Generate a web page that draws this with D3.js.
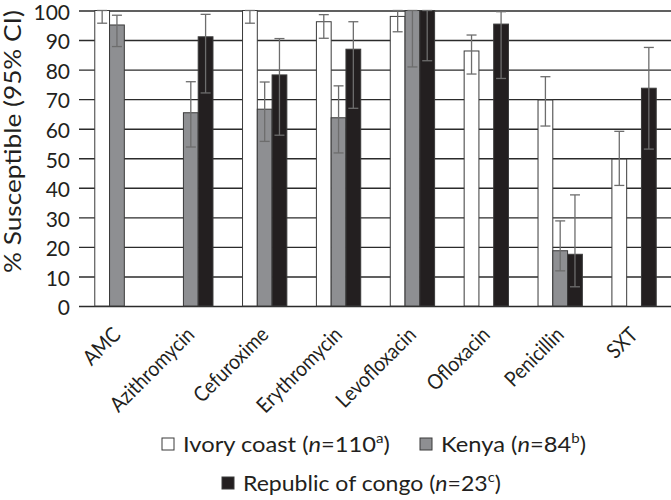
<!DOCTYPE html>
<html>
<head>
<meta charset="utf-8">
<script src="https://cdn.jsdelivr.net/npm/d3@7"></script>
<style>
  html, body { margin: 0; padding: 0; background: #fff; }
  svg { display: block; font-family: Lato, "Open Sans", sans-serif; }
</style>
</head>
<body>
<svg id="chart" width="671" height="500"></svg>
<script>
// ---- data ----
const categories = ["AMC", "Azithromycin", "Cefuroxime", "Erythromycin", "Levofloxacin", "Ofloxacin", "Penicillin", "SXT"];
const seriesNames = ["Ivory coast", "Kenya", "Republic of congo"];
const seriesN = ["110", "84", "23"];
const seriesSup = ["a", "b", "c"];
const ivoryCoast      = [100, null, 100, 96.2, 98, 86.3, 69.7, 49.7];
const ivoryCoastLow   = [95.7, null, 95.7, 90.6, 92.8, 78.5, 60.9, 40.8];
const ivoryCoastHigh  = [100, null, 100, 98.6, 100, 91.7, 77.6, 59.1];
const kenya           = [95.1, 65.4, 66.6, 63.7, 100, null, 18.7, null];
const kenyaLow        = [87.8, 53.8, 55.7, 51.8, 80.9, null, 11.9, null];
const kenyaHigh       = [98.4, 75.9, 75.8, 74.5, 100, null, 28.8, null];
const congo           = [null, 91.1, 78.2, 86.9, 100, 95.4, 17.5, 73.7];
const congoLow        = [null, 72.1, 57.8, 66.9, 83, 77, 6.5, 53.1];
const congoHigh       = [null, 98.7, 90.5, 96.2, 100, 99.6, 37.6, 87.5];
const yTicks = [0, 10, 20, 30, 40, 50, 60, 70, 80, 90, 100];
const yTitle = "% Susceptible (95% CI)";

const values = [ivoryCoast, kenya, congo];
const lows = [ivoryCoastLow, kenyaLow, congoLow];
const highs = [ivoryCoastHigh, kenyaHigh, congoHigh];
const fills = ["#ffffff", "#8e8f92", "#231f20"];

const svg = d3.select("#chart");
const mLeft = 80, mRight = 671, mTop = 10.5, mBottom = 306;

const x0 = d3.scaleBand().domain(categories).range([mLeft, mRight]).paddingInner(0.4).paddingOuter(0.2);
const x1 = d3.scaleBand().domain(d3.range(3)).range([0, x0.bandwidth()]);
const y = d3.scaleLinear().domain([0, 100]).range([mBottom, mTop]);

// horizontal squeeze factor so that a text reaches a target length
function squeeze(sel, target) {
  const w = sel.node().getBBox().width;
  return w > 0 ? target / w : 1;
}

// gridlines
const grid = svg.append("g").attr("transform", `translate(${mLeft - 1},0)`)
  .call(d3.axisLeft(y).tickValues(yTicks).tickSize(-(mRight - mLeft + 1)).tickFormat(""));
grid.select(".domain").remove();
grid.selectAll("line").attr("stroke", "#2b2b2b").attr("stroke-width", 1.4);

// y tick labels
const yAxis = svg.append("g").attr("transform", `translate(${mLeft},0)`)
  .call(d3.axisLeft(y).tickValues(yTicks).tickSize(0).tickPadding(10));
yAxis.select(".domain").remove();
yAxis.selectAll("text").attr("font-size", 21).attr("dy", "0.42em")
  .attr("fill", "#231f20").attr("font-family", "Lato, sans-serif");

// bars
const barData = [];
categories.forEach((c, i) => {
  for (let s = 0; s < 3; s++) {
    if (values[s][i] != null) barData.push({ c, s, v: values[s][i], lo: lows[s][i], hi: highs[s][i] });
  }
});
svg.append("g").selectAll("rect").data(barData).join("rect")
  .attr("x", d => x0(d.c) + x1(d.s))
  .attr("y", d => y(d.v))
  .attr("width", x1.bandwidth())
  .attr("height", d => y(0) - y(d.v))
  .attr("fill", d => fills[d.s])
  .attr("stroke", "#3a3a3a")
  .attr("stroke-width", 1);

// error bars
const eb = svg.append("g").attr("stroke", "#6d6d6d").attr("stroke-width", 1.3);
const cap = 5;
barData.forEach(d => {
  const cx = x0(d.c) + x1(d.s) + x1.bandwidth() / 2;
  eb.append("line").attr("x1", cx).attr("x2", cx).attr("y1", y(d.lo)).attr("y2", y(d.hi));
  eb.append("line").attr("x1", cx - cap).attr("x2", cx + cap).attr("y1", y(d.lo)).attr("y2", y(d.lo));
  eb.append("line").attr("x1", cx - cap).attr("x2", cx + cap).attr("y1", y(d.hi)).attr("y2", y(d.hi));
});

// x labels
const xAxis = svg.append("g").attr("transform", `translate(0,${mBottom})`)
  .call(d3.axisBottom(x0).tickSize(0).tickPadding(0));
xAxis.select(".domain").remove();
xAxis.selectAll("text")
  .attr("font-size", 21).attr("fill", "#231f20").attr("font-family", "Lato, sans-serif")
  .attr("text-anchor", "end").attr("dy", null).attr("y", 0)
  .attr("transform", "translate(5,30) rotate(-45) scale(0.9,1)");

// y title
const yt = svg.append("text")
  .attr("text-anchor", "middle")
  .attr("font-size", 23).attr("fill", "#231f20")
  .text(yTitle);
const ys = squeeze(yt, 263);
yt.attr("transform", `translate(21,141.5) rotate(-90) scale(${ys},1)`);

// legend
const legendPos = [[162, 452, 207], [420, 452, 145], [222, 491, 258]];
seriesNames.forEach((name, s) => {
  const [lx, ly, lw] = legendPos[s];
  svg.append("rect").attr("x", lx).attr("y", ly - 14).attr("width", 12).attr("height", 12)
    .attr("fill", fills[s]).attr("stroke", "#3a3a3a").attr("stroke-width", 1);
  const t = svg.append("text").attr("font-size", 22).attr("fill", "#231f20");
  t.append("tspan").text(name + " (");
  t.append("tspan").attr("font-style", "italic").text("n");
  t.append("tspan").text("=" + seriesN[s]);
  t.append("tspan").attr("font-size", 14).attr("dy", -9).text(seriesSup[s]);
  t.append("tspan").attr("dy", 9).text(")");
  const k = squeeze(t, lw);
  t.attr("transform", `translate(${lx + 21},${ly}) scale(${k},1)`);
});
</script>
</body>
</html>
